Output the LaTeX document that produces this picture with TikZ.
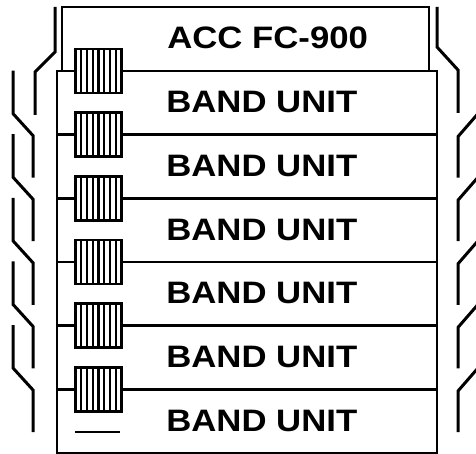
\documentclass[tikz,border=0pt]{standalone}
\usepackage{fontspec}
\newfontfamily\unitfont[FakeStretch=1.12]{Liberation Sans}
\usetikzlibrary{positioning}

\begin{document}
\begin{tikzpicture}[x=1pt, y=-1pt, line width=2.8pt,
    every node/.style={font=\unitfont\bfseries\fontsize{31}{31}\selectfont, outer sep=0pt},
    unitbox/.style={draw, minimum width=380pt, minimum height=63.67pt, inner sep=0pt},
    plug/.style={draw, fill=white, minimum width=46pt, minimum height=44pt, inner sep=0pt, line width=2.6pt,
      path picture={\foreach \k in {1,...,7}
        \draw[line width=2.2pt] ([xshift=\k*46pt/8]path picture bounding box.south west)
          -- ([xshift=\k*46pt/8]path picture bounding box.north west);}},
    cable/.style={line width=3pt}]
    \useasboundingbox (0,0) rectangle (476,454);

    % controller on top
    \node[draw, minimum width=367pt, minimum height=64pt, inner sep=0pt] (acc) at (245.5,39) {};
    \node[anchor=base west] (acctext) at ([xshift=102pt, yshift=-10pt]acc.west) {ACC FC-900};

    % band units
    \node[unitbox] (unit1) at (247,102.8) {};
    \foreach \i [remember=\i as \j (initially 1)] in {2,...,6}
      \node[unitbox, below=0pt of unit\j] (unit\i) {};
    \foreach \i in {1,...,6}
      \node[anchor=base west] (text\i) at ([xshift=106pt, yshift=-10pt]unit\i.west) {BAND UNIT};

    % connectors
    \foreach \i in {1,...,6}
      \node[plug] (plug\i) at ([xshift=41.5pt]unit\i.north west) {};
    \draw (75,432) -- (120,432);

    % cables, left side
    \draw[cable] (55,7) -- (55,52) -- (35,72) -- (35,115);
    \foreach \s in {70.6,134.2,197.8,261.4,325}
      \draw[cable] (13,\s) -- (13,\s+43) -- (33,\s+65) -- (33,\s+107);

    % cables, right side
    \draw[cable] (437,7) -- (437,47) -- (458,70) -- (458,113);
    \foreach \s in {70.6,134.2,197.8,261.4,325}
      \draw[cable] (478,\s+43) -- (458,\s+66) -- (458,\s+107);
\end{tikzpicture}
\end{document}
